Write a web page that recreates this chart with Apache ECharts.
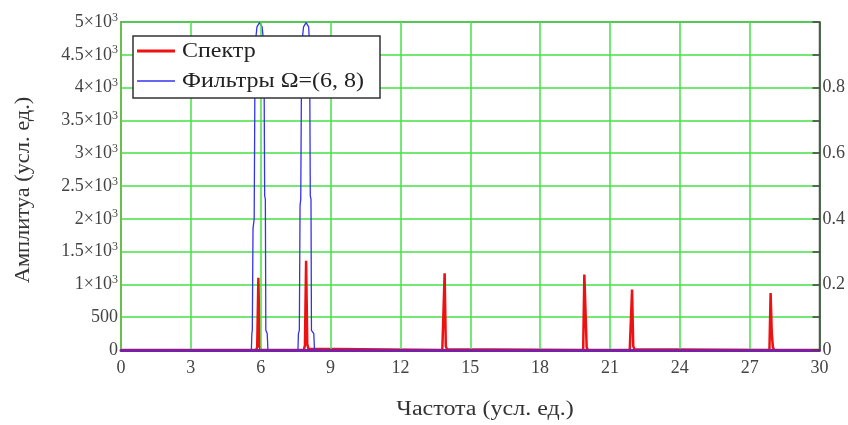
<!DOCTYPE html>
<html><head><meta charset="utf-8">
<script src="https://cdn.jsdelivr.net/npm/echarts@6/dist/echarts.min.js"></script>
<style>html,body{margin:0;padding:0;background:#fff}#c{width:848px;height:425px}</style>
</head><body><div id="c"></div>
<script>
// Spectrum amplitude (left axis) : [frequency, amplitude]
const spectrum = [
  [0,0],[5.8,0],[5.85,40],[5.9,1100],[5.95,60],[6.0,0],
  [7.85,0],[7.9,70],[7.95,1360],[8.0,90],[8.05,20],[8.1,0],
  [13.8,0],[13.85,10],[13.9,1170],[13.95,60],[14.0,10],[14.05,0],
  [19.85,0],[19.9,1150],[19.95,1130],[20.0,40],[20.05,0],
  [21.85,0],[21.9,20],[21.95,920],[22.0,60],[22.05,10],[22.1,0],
  [27.85,0],[27.9,870],[27.95,260],[28.0,40],[28.05,0],[30,0]
];
// Filter response (right axis)
const filters = [
  [0,0],[5.6,0],[5.62,0.05],[5.64,0.06],[5.67,0.37],[5.72,0.4],[5.76,0.93],[5.84,0.985],[5.95,0.998],[6.06,0.985],[6.14,0.93],[6.17,0.47],[6.2,0.46],[6.22,0.06],[6.28,0.05],[6.31,0],
  [7.6,0],[7.62,0.05],[7.66,0.06],[7.69,0.44],[7.72,0.46],[7.76,0.93],[7.84,0.985],[7.95,0.998],[8.06,0.985],[8.1,0.93],[8.13,0.47],[8.16,0.46],[8.18,0.06],[8.28,0.05],[8.31,0],[30,0]
];
const xTicks = ['0','3','6','9','12','15','18','21','24','27','30'];
const leftTicks = ['0','500','1×10^3','1.5×10^3','2×10^3','2.5×10^3','3×10^3','3.5×10^3','4×10^3','4.5×10^3','5×10^3'];
const rightTicks = ['0','','0.2','','0.4','','0.6','','0.8','',''];
const seriesNames = ['Спектр','Фильтры Ω=(6, 8)'];
const xTitle = 'Частота (усл. ед.)';
const yTitle = 'Амплитуа (усл. ед.)';

const serif = 'Liberation Serif, Times New Roman, serif';
const red = '#ee1111', blue = '#3333ee';
const chart = echarts.init(document.getElementById('c'), null, {renderer:'canvas'});
chart.setOption({
  animation:false,
  backgroundColor:'#fff',
  grid:{left:121,right:27,top:22,bottom:75,show:true,borderColor:'#555',borderWidth:1.5,backgroundColor:'transparent'},
  xAxis:{
    type:'value',min:0,max:30,interval:3,z:5,
    axisLine:{show:true,onZero:false,lineStyle:{color:'#7a1fa8',width:3}},
    axisTick:{show:false},
    axisLabel:{margin:9,fontFamily:serif,fontSize:18,color:'#444',
      formatter:(v)=>xTicks[Math.round(v/3)]},
    splitLine:{show:true,lineStyle:{color:'#44e044',width:1.5}}
  },
  yAxis:[{
    type:'value',min:0,max:5000,interval:500,
    axisLine:{show:true,lineStyle:{color:'#f05050',width:1.5}},
    axisTick:{show:false},
    axisLabel:{margin:3,fontFamily:serif,fontSize:18,color:'#444',
      formatter:(v)=>{const s=leftTicks[Math.round(v/500)];const p=s.split('^');return p.length>1?'{n|'+p[0]+'}{s|'+p[1]+'}':'{n|'+s+'}';},
      rich:{n:{fontFamily:serif,fontSize:18,color:'#444'},s:{fontFamily:serif,fontSize:12,color:'#444',verticalAlign:'bottom',padding:[0,0,9,0]}}
    },
    splitLine:{show:true,lineStyle:{color:'#44e044',width:1.5}}
  },{
    type:'value',min:0,max:1,interval:0.1,position:'right',z:5,
    axisLine:{show:true,lineStyle:{color:'#444',width:1.5}},
    axisTick:{show:true,inside:true,length:7,lineStyle:{color:'#444',width:1.5},
      interval:(i)=>rightTicks[i]!==''},
    axisLabel:{margin:3,fontFamily:serif,fontSize:18,color:'#444',
      formatter:(v)=>rightTicks[Math.round(v*10)]},
    splitLine:{show:false}
  }],
  series:[{
    name:seriesNames[0],type:'line',yAxisIndex:0,data:spectrum,symbol:'none',
    lineStyle:{color:red,width:2.5},itemStyle:{color:red},clip:true
  },{
    name:seriesNames[1],type:'line',yAxisIndex:1,data:filters,symbol:'none',
    lineStyle:{color:blue,width:1.3},itemStyle:{color:blue},clip:true
  }],
  graphic:[
    {type:'text',x:485,y:410,scaleX:1.2,style:{text:xTitle,font:'20px '+serif,fill:'#333',textAlign:'center',textVerticalAlign:'middle'}},
    {type:'text',rotation:Math.PI/2,x:24,y:190,scaleX:1.12,style:{text:yTitle,font:'20px '+serif,fill:'#333',textAlign:'center',textVerticalAlign:'middle'}},
    {type:'rect',z:100,shape:{x:133,y:36,width:247,height:62},style:{fill:'#fff',stroke:'#333',lineWidth:1.5}},
    {type:'line',z:101,shape:{x1:137,y1:51,x2:175,y2:51},style:{stroke:red,lineWidth:3}},
    {type:'line',z:101,shape:{x1:137,y1:81,x2:175,y2:81},style:{stroke:blue,lineWidth:1.5}},
    {type:'text',z:101,x:182,y:52,scaleX:1.2,style:{text:seriesNames[0],font:'20px '+serif,fill:'#222',textVerticalAlign:'middle'}},
    {type:'text',z:101,x:182,y:82,scaleX:1.2,style:{text:seriesNames[1],font:'20px '+serif,fill:'#222',textVerticalAlign:'middle'}}
  ]
});
</script></body></html>
